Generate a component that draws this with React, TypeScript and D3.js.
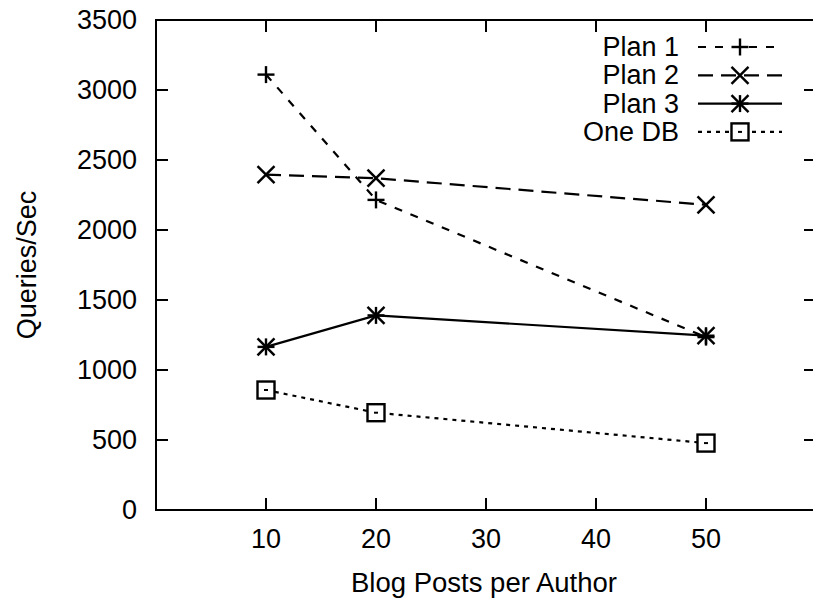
import React from "react";
import * as d3 from "d3";

const xValues = [10, 20, 50];
const plan1 = [3110, 2215, 1235];
const plan2 = [2395, 2370, 2180];
const plan3 = [1165, 1390, 1245];
const oneDB = [857, 695, 478];
const seriesNames = ["Plan 1", "Plan 2", "Plan 3", "One DB"];
const xTicks = [10, 20, 30, 40, 50];
const yTicks = [0, 500, 1000, 1500, 2000, 2500, 3000, 3500];

const W = 813;
const H = 599;
const left = 156;
const right = 816;
const top = 20;
const bottom = 510;

const FONT = "'Liberation Sans', Arial, Helvetica, sans-serif";
const FS = 27;

type Marker = "plus" | "cross" | "star" | "box";

function MarkerShape({ type, x, y }: { type: Marker; x: number; y: number }) {
  const s = 8.5;
  const st = { stroke: "#000", strokeWidth: 2.4, fill: "none" };
  if (type === "plus") {
    return (
      <g {...st}>
        <line x1={x - s} y1={y} x2={x + s} y2={y} />
        <line x1={x} y1={y - s} x2={x} y2={y + s} />
      </g>
    );
  }
  if (type === "cross") {
    return (
      <g {...st}>
        <line x1={x - s} y1={y - s} x2={x + s} y2={y + s} />
        <line x1={x - s} y1={y + s} x2={x + s} y2={y - s} />
      </g>
    );
  }
  if (type === "star") {
    return (
      <g {...st}>
        <line x1={x - s} y1={y} x2={x + s} y2={y} />
        <line x1={x} y1={y - s} x2={x} y2={y + s} />
        <line x1={x - s} y1={y - s} x2={x + s} y2={y + s} />
        <line x1={x - s} y1={y + s} x2={x + s} y2={y - s} />
      </g>
    );
  }
  return (
    <g>
      <rect x={x - s} y={y - s} width={2 * s} height={2 * s} fill="#fff" stroke="#000" strokeWidth={2.4} />
      <line x1={x - 2} y1={y} x2={x + 2} y2={y} stroke="#000" strokeWidth={2} />
    </g>
  );
}

export default function App() {
  const xScale = d3.scaleLinear().domain([0, 60]).range([left, right]);
  const yScale = d3.scaleLinear().domain([0, 3500]).range([bottom, top]);

  const series: { name: string; values: number[]; marker: Marker; dash: string }[] = [
    { name: seriesNames[0], values: plan1, marker: "plus", dash: "8,9" },
    { name: seriesNames[1], values: plan2, marker: "cross", dash: "15,8" },
    { name: seriesNames[2], values: plan3, marker: "star", dash: "" },
    { name: seriesNames[3], values: oneDB, marker: "box", dash: "4,5" },
  ];

  const line = d3
    .line<[number, number]>()
    .x((d) => xScale(d[0]))
    .y((d) => yScale(d[1]));

  const tickLen = 12;
  const legendTextX = 679;
  const legendX1 = 698;
  const legendX2 = 782;
  const legendMX = 740;
  const legendY0 = 47;
  const legendDY = 28.3;

  return (
    <svg
      width={W}
      height={H}
      style={{ position: "absolute", left: 0, top: 0, background: "#fff" }}
      fontFamily={FONT}
    >
      <rect x={0} y={0} width={W} height={H} fill="#fff" />
      {/* ticks */}
      {yTicks.map((t) => (
        <g key={"y" + t}>
          <line x1={left} x2={left + tickLen} y1={yScale(t)} y2={yScale(t)} stroke="#000" strokeWidth={2} />
          <line x1={right} x2={right - tickLen} y1={yScale(t)} y2={yScale(t)} stroke="#000" strokeWidth={2} />
          <text x={137} y={yScale(t)} textAnchor="end" dominantBaseline="central" fontSize={FS}>
            {t}
          </text>
        </g>
      ))}
      {xTicks.map((t) => (
        <g key={"x" + t}>
          <line x1={xScale(t)} x2={xScale(t)} y1={bottom} y2={bottom - tickLen} stroke="#000" strokeWidth={2} />
          <line x1={xScale(t)} x2={xScale(t)} y1={top} y2={top + tickLen} stroke="#000" strokeWidth={2} />
          <text x={xScale(t)} y={539} textAnchor="middle" dominantBaseline="central" fontSize={FS}>
            {t}
          </text>
        </g>
      ))}
      {/* frame */}
      <rect x={left} y={top} width={right - left} height={bottom - top} fill="none" stroke="#000" strokeWidth={2} />
      {/* axis labels */}
      <text x={484} y={582} textAnchor="middle" dominantBaseline="central" fontSize={27.5}>
        Blog Posts per Author
      </text>
      <text
        transform={`translate(27, ${(top + bottom) / 2}) rotate(-90)`}
        textAnchor="middle"
        dominantBaseline="central"
        fontSize={FS}
      >
        Queries/Sec
      </text>
      {/* series */}
      {series.map((s) => {
        const pts: [number, number][] = s.values.map((v, i) => [xValues[i], v]);
        return (
          <g key={s.name}>
            <path
              d={line(pts) || ""}
              fill="none"
              stroke="#000"
              strokeWidth={2.2}
              strokeDasharray={s.dash || undefined}
            />
            {pts.map((p, i) => (
              <MarkerShape key={i} type={s.marker} x={xScale(p[0])} y={yScale(p[1])} />
            ))}
          </g>
        );
      })}
      {/* legend */}
      {series.map((s, i) => {
        const y = legendY0 + i * legendDY;
        return (
          <g key={"lg" + s.name}>
            <text x={legendTextX} y={y} textAnchor="end" dominantBaseline="central" fontSize={FS}>
              {s.name}
            </text>
            <line
              x1={legendX1}
              x2={legendX2}
              y1={y}
              y2={y}
              stroke="#000"
              strokeWidth={2.2}
              strokeDasharray={s.dash || undefined}
            />
            <MarkerShape type={s.marker} x={legendMX} y={y} />
          </g>
        );
      })}
    </svg>
  );
}
